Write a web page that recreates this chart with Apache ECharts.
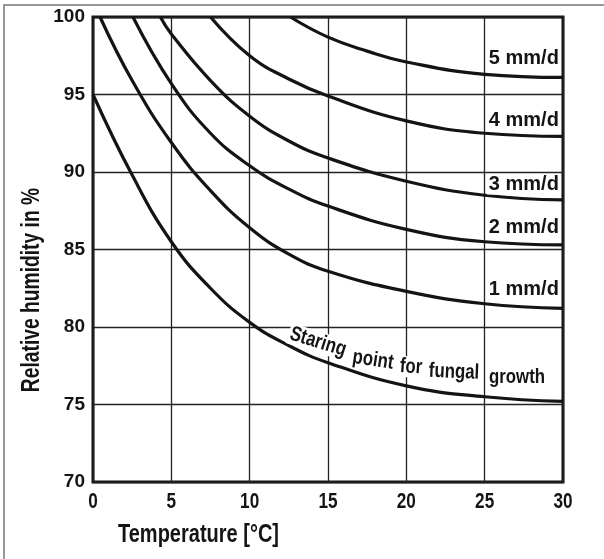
<!DOCTYPE html>
<html><head><meta charset="utf-8">
<script src="https://cdn.jsdelivr.net/npm/echarts@6/dist/echarts.min.js"></script>
<style>html,body{margin:0;padding:0;background:#fff}#c{width:604px;height:559px}</style>
</head><body><div id="c"></div>
<script>
// ---- data ----
const xTicks = [0, 5, 10, 15, 20, 25, 30];
const yTicks = [70, 75, 80, 85, 90, 95, 100];

const fungalT  = [0, 2.5, 5, 7.5, 10, 12.5, 15, 20, 25, 30];
const fungalRH = [95, 89.8, 85.5, 82.5, 80.3, 78.8, 77.7, 76.2, 75.5, 75.2];

const mm1T  = [0.45, 2.5, 5, 7.5, 10, 12.5, 15, 20, 25, 30];
const mm1RH = [100, 95.9, 91.9, 88.8, 86.4, 84.7, 83.6, 82.3, 81.5, 81.2];

const mm2T  = [2.55, 5, 7.5, 10, 12.5, 15, 20, 25, 30];
const mm2RH = [100, 95.7, 92.5, 90.4, 88.9, 87.8, 86.3, 85.5, 85.3];

const mm3T  = [4.3, 5, 7.5, 10, 12.5, 15, 20, 25, 30];
const mm3RH = [100, 98.9, 95.9, 93.6, 92.0, 90.9, 89.4, 88.5, 88.2];

const mm4T  = [7.5, 10, 12.5, 15, 20, 25, 30];
const mm4RH = [100, 97.5, 96.0, 94.9, 93.3, 92.5, 92.3];

const mm5T  = [12.6, 15, 17.5, 20, 25, 30];
const mm5RH = [100, 98.7, 97.8, 97.1, 96.3, 96.1];

const curveLabels = ['1 mm/d', '2 mm/d', '3 mm/d', '4 mm/d', '5 mm/d'];
const fungalLabelWords = ['Staring', 'point', 'for', 'fungal', 'growth'];
const xTitle = 'Temperature [°C]';
const yTitle = 'Relative humidity in %';

// ---- chart ----
const SANS = "'Liberation Sans',Arial,sans-serif";
const INK = '#141414';

const pairs = (T, R) => T.map((t, i) => [t, R[i]]);
const curves = [
  pairs(fungalT, fungalRH), pairs(mm1T, mm1RH), pairs(mm2T, mm2RH),
  pairs(mm3T, mm3RH), pairs(mm4T, mm4RH), pairs(mm5T, mm5RH)
];

const chart = echarts.init(document.getElementById('c'), null, {renderer: 'canvas'});
chart.setOption({
  animation: false,
  backgroundColor: '#fff',
  grid: {left: 93, top: 17, width: 470, height: 465, show: true, borderWidth: 3, borderColor: INK, backgroundColor: 'transparent'},
  xAxis: {
    type: 'value', min: xTicks[0], max: xTicks[xTicks.length - 1], interval: 5,
    axisLine: {show: false}, axisTick: {show: false},
    splitLine: {show: true, lineStyle: {color: '#222', width: 1.3}},
    axisLabel: {show: false}
  },
  yAxis: {
    type: 'value', min: yTicks[0], max: yTicks[yTicks.length - 1], interval: 5,
    axisLine: {show: false}, axisTick: {show: false},
    splitLine: {show: true, lineStyle: {color: '#222', width: 1.3}},
    axisLabel: {margin: 8, fontFamily: SANS, fontSize: 19, fontWeight: 'bold', color: INK}
  },
  series: curves.map((d, i) => ({
    type: 'line', name: i === 0 ? 'fungal' : curveLabels[i - 1], data: d,
    smooth: 0.45, symbol: 'none', clip: true,
    lineStyle: {color: INK, width: 3.2}
  }))
});

// label anchors (data coords: right edge of text, vertical centre)
const labelAnchors = [[29.8, 82.4], [29.8, 86.4], [29.8, 89.2], [29.8, 93.3], [29.8, 97.3]];
const px = p => chart.convertToPixel({gridIndex: 0}, p);

const graphics = [];
graphics.push({type: 'polyline', silent: true, z: 100,
  shape: {points: [[4, 559], [4, 5], [604, 5]]}, style: {stroke: '#777', lineWidth: 1.5, fill: null}});
// white-out behind start of fungal label
graphics.push({type: 'rect', z: -1, silent: true,
  shape: {x: 288, y: 326, width: 40, height: 30}, style: {fill: '#fff'}});

// x tick labels (condensed look) positioned with the axis scale
xTicks.forEach(v => {
  const p = px([v, yTicks[0]]);
  graphics.push({type: 'text', z: 100, x: p[0], y: p[1] + 20, scaleX: 0.78,
    style: {text: String(v), fill: INK, font: 'bold 22px ' + SANS, align: 'center', verticalAlign: 'middle'}});
});

curveLabels.forEach((t, i) => {
  const p = px(labelAnchors[i]);
  graphics.push({type: 'text', z: 100, x: p[0], y: p[1],
    style: {text: t, fill: INK, font: 'bold 20px ' + SANS, align: 'right', verticalAlign: 'middle',
      backgroundColor: '#fff', padding: [0, 1, 0, 2]}});
});

const wordPos = [[318, 342, -0.30], [373, 360, -0.15], [411, 367, -0.07], [454, 372, -0.04], [517, 377, 0]];
fungalLabelWords.forEach((w, i) => {
  const [x, y, r] = wordPos[i];
  graphics.push({type: 'text', z: 100, x, y, rotation: r, scaleX: 0.8,
    style: {text: w, fill: INK, font: 'bold 21px ' + SANS, align: 'center', verticalAlign: 'middle',
      backgroundColor: '#fff', padding: [0, 2]}});
});

graphics.push({type: 'text', z: 100, x: 118, y: 535, scaleX: 0.8,
  style: {text: xTitle, fill: INK, font: 'bold 25px ' + SANS, align: 'left', verticalAlign: 'middle'}});
graphics.push({type: 'text', z: 100, x: 32, y: 290, rotation: Math.PI / 2, scaleX: 0.77,
  style: {text: yTitle, fill: INK, font: 'bold 25px ' + SANS, align: 'center', verticalAlign: 'middle'}});

chart.setOption({graphic: graphics});
</script>
</body></html>
